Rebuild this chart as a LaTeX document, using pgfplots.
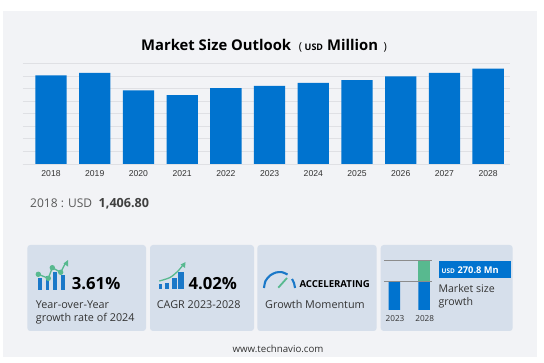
\documentclass[border=0pt]{standalone}
\usepackage{pgfplots}
\pgfplotsset{compat=1.18}
\usepackage{fontspec}
\setmainfont{Open Sans}
\newfontfamily\arial{Liberation Sans}
\definecolor{panel}{HTML}{F2F3F6}
\definecolor{card}{HTML}{D6DFEB}
\definecolor{barblue}{HTML}{0073CF}
\definecolor{gridc}{HTML}{DFE0E4}
\definecolor{icongreen}{HTML}{58B98F}
\definecolor{iconblue}{HTML}{1A78C8}
\definecolor{txt}{HTML}{333333}
\newcommand{\fs}[1]{\fontsize{#1}{#1}\selectfont}
\begin{document}
\begin{tikzpicture}[x=1pt,y=-1pt]
\path (0,0) rectangle (544,363);
\fill[panel] (3,11) rectangle (537,357);
\fill[card,rounded corners=3pt] (27.3,245) rectangle (146,331);
\fill[card,rounded corners=3pt] (150,245) rectangle (254,331);
\fill[card,rounded corners=3pt] (257.3,245) rectangle (376.7,331);
\fill[card,rounded corners=3pt] (380.7,245) rectangle (512.7,331);

% main chart
\begin{axis}[
  at={(22.7pt,-164pt)},anchor=south west,
  scale only axis,width=487.3pt,height=100.7pt,
  xmin=-0.648,xmax=10.5,ymin=0,ymax=1600,
  ybar,bar width=31.3pt,
  xtick=data,
  xticklabels={2018,2019,2020,2021,2022,2023,2024,2025,2026,2027,2028},
  ytick={0,200,400,600,800,1000,1200,1400,1600},
  yticklabels={},
  ymajorgrids,grid style={gridc,line width=0.7pt},
  major tick length=0pt,
  axis x line*=bottom,axis y line*=left,
  y axis line style={draw=none},
  x axis line style={gridc,line width=0.7pt,-},
  xticklabel style={font=\arial\fs{8.6},text=txt,yshift=-2.6pt},
]
\addplot[fill=barblue,draw=none] coordinates {
(0,1406.8)(1,1449)(2,1170)(3,1095)(4,1206)(5,1243)(6,1288)(7,1333)(8,1392)(9,1449)(10,1514)};
\end{axis}

% icons, drawn in picture pixels
\begin{axis}[
  at={(0pt,0pt)},anchor=north west,
  scale only axis,width=544pt,height=363pt,
  xmin=0,xmax=544,ymin=0,ymax=363,y dir=reverse,
  hide axis,clip=false,
]
% icon 1
\addplot[fill=iconblue,draw=none] coordinates {(38.3,290)(41.7,290)(41.7,278.3)(38.3,278.3)} --cycle;
\addplot[fill=iconblue,draw=none] coordinates {(45.7,290)(49.3,290)(49.3,276)(45.7,276)} --cycle;
\addplot[fill=iconblue,draw=none] coordinates {(53.3,290)(56.7,290)(56.7,271.7)(53.3,271.7)} --cycle;
\addplot[fill=iconblue,draw=none] coordinates {(60.7,290)(64.7,290)(64.7,275)(60.7,275)} --cycle;
\addplot[icongreen,line width=1.3pt,mark=*,mark size=2pt,mark options={fill=icongreen,draw=none},mark indices={1,2,3,4}] coordinates {(38.3,274.3)(48.3,278.3)(52.3,267.7)(60.7,272.3)(65,264)};
\addplot[fill=icongreen,draw=none] coordinates {(63.5,263.5)(68,260)(68,266.5)} --cycle;
% icon 2
\addplot[fill=iconblue,draw=none] coordinates {(159,289.3)(162.3,289.3)(162.3,284.3)(159,284.3)} --cycle;
\addplot[fill=iconblue,draw=none] coordinates {(165.3,289.3)(169.3,289.3)(169.3,282.7)(165.3,282.7)} --cycle;
\addplot[fill=iconblue,draw=none] coordinates {(171.7,289.3)(176.7,289.3)(176.7,278.3)(171.7,278.3)} --cycle;
\addplot[fill=iconblue,draw=none] coordinates {(178.3,289.3)(184,289.3)(184,271.7)(178.3,271.7)} --cycle;
\addplot[icongreen,line width=1.3pt,smooth] coordinates {(159.3,281)(170,277.5)(178,271)(183,265)};
\addplot[fill=icongreen,draw=none] coordinates {(180.5,264.5)(185.5,262)(185,268)} --cycle;
% gauge
\addplot[iconblue,line width=2.1pt,smooth] coordinates {(264,288)(265.5,281)(270,275.5)(276,272.5)(282,272.2)(287.5,274.5)};
\addplot[iconblue,line width=2.1pt,smooth] coordinates {(292,279)(294,283)(295,288)};
\addplot[icongreen,line width=1.8pt] coordinates {(278.3,287.7)(287,278)};
\end{axis}

% mini chart
\begin{axis}[
  at={(384pt,-310pt)},anchor=south west,
  scale only axis,width=47.7pt,height=50pt,
  xmin=-0.347,xmax=1.253,ymin=878,ymax=1514,
  ybar stacked,bar width=11.5pt,
  xtick={0,1},xticklabels={},
  ytick={1243,1514},yticklabels={},
  ymajorgrids,grid style={color=black!45,line width=0.5pt},
  axis on top,
  major tick length=0pt,
  axis x line*=bottom,axis y line*=left,
  axis line style={draw=none},
  clip=false,
]
\addplot[fill=barblue,draw=none] coordinates {(0,1243)(1,1243)};
\addplot[fill=icongreen,draw=none] coordinates {(0,0)(1,270.8)};
\end{axis}
\node[anchor=base,font=\fs{8.2},text=txt,inner sep=0] at (395,322) {2023};
\node[anchor=base,font=\fs{8.2},text=txt,inner sep=0] at (424.7,322) {2028};
\fill[barblue] (439.3,261) rectangle (511,278.3);
\node[anchor=base west,text=white,inner sep=0] at (441.5,273.3) {{\fs{6.5}\bfseries USD} {\fs{9.3}\bfseries 270.8 Mn}};

% text
\node[anchor=base west,inner sep=0,font=\bfseries\fs{14.8}] at (141,50.7) {Market Size Outlook};
\node[anchor=base west,inner sep=0,font=\fs{11}] at (298.7,50.7) {(};
\node[anchor=base west,inner sep=0,font=\bfseries\fs{9}] at (304.5,50.7) {USD};
\node[anchor=base west,inner sep=0,font=\bfseries\fs{14.8}] at (327,50.7) {Million};
\node[anchor=base west,inner sep=0,font=\fs{11}] at (383.5,50.7) {)};
\node[anchor=base west,inner sep=0,font=\fs{12},text=black!65] at (30,207.7) {2018 : USD};
\node[anchor=base west,inner sep=0,font=\bfseries\fs{12.6},text=black!75] at (98.5,207.7) {1,406.80};

\node[anchor=base west,inner sep=0,font=\bfseries\fs{16.7}] at (71.7,289.3) {3.61\%};
\node[anchor=base west,inner sep=0,font=\fs{10.8},text=txt] at (35.7,309) {Year-over-Year};
\node[anchor=base west,inner sep=0,font=\fs{10.8},text=txt] at (35.7,321.5) {growth rate of 2024};
\node[anchor=base west,inner sep=0,font=\bfseries\fs{16.7}] at (188.3,289.3) {4.02\%};
\node[anchor=base west,inner sep=0,font=\fs{10.8},text=txt] at (156.7,309) {CAGR 2023-2028};
\node[anchor=base west,inner sep=0,font=\bfseries\fs{9.6}] at (299.3,287.3) {ACCELERATING};
\node[anchor=base west,inner sep=0,font=\fs{10.8},text=txt] at (265,309) {Growth Momentum};
\node[anchor=base west,inner sep=0,font=\fs{10.6},text=txt] at (438.3,292.5) {Market size};
\node[anchor=base west,inner sep=0,font=\fs{10.6},text=txt] at (438.3,305.5) {growth};
\node[anchor=base,inner sep=0,font=\fs{9.7},text=txt] at (278,353) {www.technavio.com};
\end{tikzpicture}
\end{document}
